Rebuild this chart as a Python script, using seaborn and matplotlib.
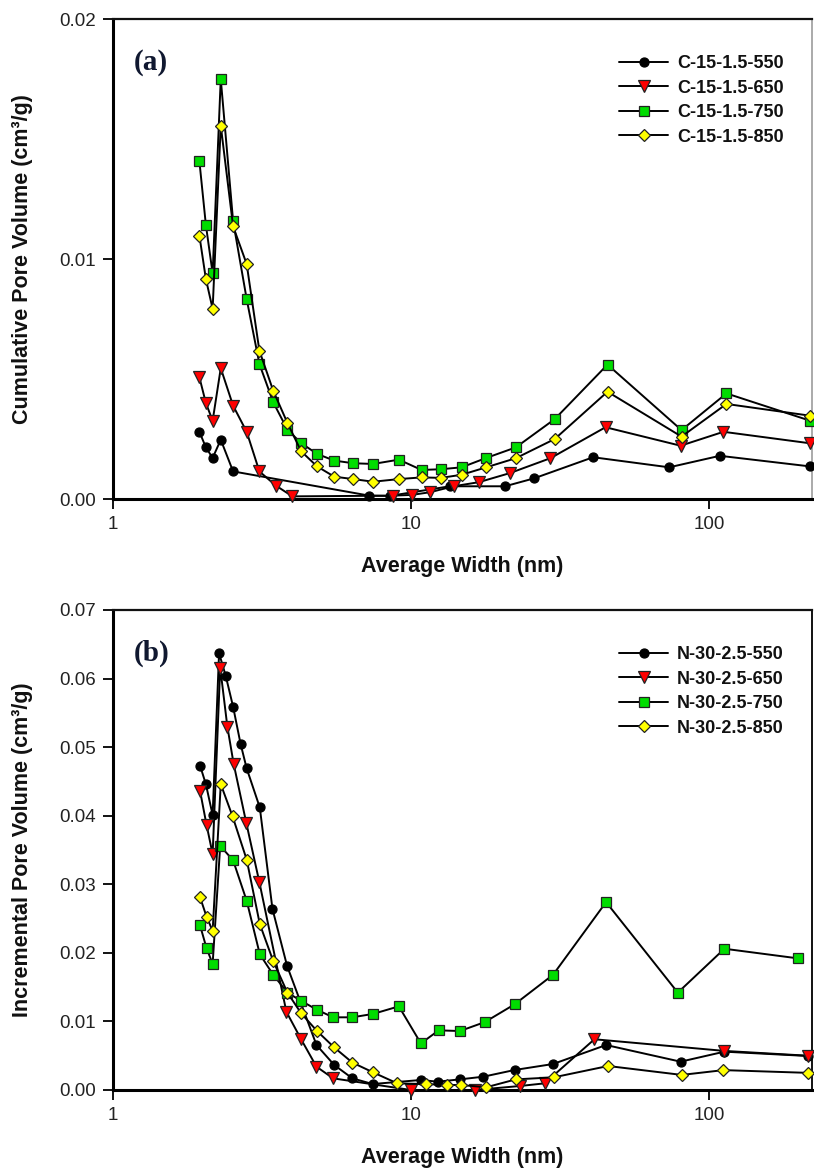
import matplotlib
matplotlib.use("Agg")
import matplotlib.pyplot as plt
import seaborn as sns
import pandas as pd
from matplotlib.ticker import FixedLocator, NullLocator, FuncFormatter

# ---------------- (a) cumulative pore volume, C-15-1.5 series ----------------
a550_w = [1.95, 2.05, 2.16, 2.30, 2.53, 7.25, 8.5, 13.5, 20.7, 25.9, 40.9, 73.6, 108.9, 218]
a550_v = [0.0028, 0.00215, 0.00171, 0.00247, 0.00115, 0.00014, 0.00013, 0.00053,
          0.00053, 0.00086, 0.00174, 0.00132, 0.0018, 0.00136]

a650_w = [1.95, 2.05, 2.16, 2.30, 2.53, 2.81, 3.10, 3.52, 4.0, 8.73, 10.05, 11.58,
          13.9, 16.9, 21.5, 29.4, 45.0, 80.4, 112, 219]
a650_v = [0.00507, 0.0040, 0.00326, 0.00545, 0.00389, 0.0028, 0.00115, 0.00056, 0.00011,
          0.00014, 0.00017, 0.00028, 0.00053, 0.0007, 0.00108, 0.0017, 0.00299, 0.00222,
          0.0028, 0.00232]

a750_w = [1.95, 2.05, 2.16, 2.30, 2.53, 2.81, 3.10, 3.45, 3.85, 4.28, 4.84, 5.53, 6.40,
          7.47, 9.11, 10.86, 12.6, 14.8, 17.9, 22.5, 30.4, 45.7, 81.0, 114.6, 219]
a750_v = [0.01407, 0.01142, 0.0094, 0.0175, 0.01158, 0.00833, 0.00563, 0.00403, 0.00289,
          0.00233, 0.00188, 0.0016, 0.00149, 0.00146, 0.00164, 0.00121, 0.00124, 0.00132,
          0.00171, 0.00215, 0.00333, 0.0056, 0.00287, 0.0044, 0.00326]

a850_w = a750_w
a850_v = [0.01097, 0.00917, 0.00792, 0.01556, 0.01136, 0.00979, 0.00618, 0.00451, 0.00317,
          0.00199, 0.00136, 0.00093, 0.00083, 0.00072, 0.00083, 0.0009, 0.00088, 0.00101,
          0.00132, 0.0017, 0.0025, 0.00447, 0.0026, 0.00396, 0.00347]

# ---------------- (b) incremental pore volume, N-30-2.5 series ----------------
b550_w = [1.96, 2.05, 2.16, 2.27, 2.39, 2.53, 2.68, 2.81, 3.11, 3.43, 3.84, 4.82, 5.53,
          6.36, 7.44, 10.8, 12.3, 14.6, 17.5, 22.3, 30.0, 45.2, 80.4, 112.8, 215]
b550_v = [0.0473, 0.0446, 0.0401, 0.0637, 0.0604, 0.0559, 0.0505, 0.0469, 0.0412, 0.0264,
          0.0181, 0.00656, 0.00364, 0.0017, 0.00087, 0.00146, 0.00121, 0.00155, 0.00194,
          0.00292, 0.00379, 0.00656, 0.00413, 0.00559, 0.00496]

b650_w = [1.96, 2.06, 2.16, 2.29, 2.42, 2.54, 2.80, 3.10, 3.82, 4.28, 4.82, 5.48, 10.0,
          16.4, 23.2, 28.1, 41.3, 112.8, 215]
b650_v = [0.0436, 0.0387, 0.0344, 0.0616, 0.0530, 0.0476, 0.0390, 0.0303, 0.0114, 0.0074,
          0.0034, 0.0017, 0.0, 0.0, 0.00058, 0.00097, 0.0074, 0.0057, 0.0050]

b750_w = [1.96, 2.06, 2.16, 2.29, 2.53, 2.81, 3.11, 3.45, 3.85, 4.28, 4.84, 5.48, 6.36,
          7.47, 9.11, 10.8, 12.4, 14.6, 17.7, 22.3, 30.0, 45.2, 78.7, 112.8, 199]
b750_v = [0.0240, 0.0207, 0.0184, 0.0356, 0.0335, 0.0276, 0.0198, 0.0168, 0.0142, 0.0130,
          0.0117, 0.0106, 0.0106, 0.0111, 0.0122, 0.0068, 0.0087, 0.0086, 0.0099, 0.0125,
          0.0168, 0.0274, 0.0142, 0.0206, 0.0192]

b850_w = [1.96, 2.06, 2.16, 2.30, 2.52, 2.81, 3.11, 3.45, 3.85, 4.28, 4.84, 5.53, 6.36,
          7.44, 9.0, 11.2, 13.2, 14.7, 17.9, 22.5, 30.2, 45.9, 81.1, 112, 215]
b850_v = [0.0281, 0.0253, 0.0232, 0.0446, 0.0399, 0.0336, 0.0242, 0.0188, 0.0142, 0.0112,
          0.0086, 0.0062, 0.0040, 0.0026, 0.00097, 0.00087, 0.00073, 0.00073, 0.0004,
          0.00155, 0.00185, 0.0035, 0.0022, 0.0029, 0.0025]

labels_a = ["C-15-1.5-550", "C-15-1.5-650", "C-15-1.5-750", "C-15-1.5-850"]
labels_b = ["N-30-2.5-550", "N-30-2.5-650", "N-30-2.5-750", "N-30-2.5-850"]
x_ticks = [1, 10, 100]
x_tick_labels = ["1", "10", "100"]
y_ticks_a = [0.00, 0.01, 0.02]
y_ticks_b = [0.00, 0.01, 0.02, 0.03, 0.04, 0.05, 0.06, 0.07]

# marker style per temperature: (marker, face colour, size)
styles = [("o", "black", 6.5), ("v", "#ff0000", 8), ("s", "#00dd00", 6.5), ("D", "#ffff00", 6.5)]

sns.set_style("white")
plt.rcParams["font.family"] = ["Liberation Sans", "DejaVu Sans"]

W, H = 814, 1171
fig = plt.figure(figsize=(W / 100, H / 100), dpi=100)
ax_a = fig.add_axes([113 / W, 672 / H, 699 / W, 480 / H])
ax_b = fig.add_axes([113 / W, 81 / H, 699 / W, 480 / H])


def draw_panel(ax, series, labels, yticks, ylabel, tag, right_spine_color):
    for (w, v), lab, (mk, fc, ms) in zip(series, labels, styles):
        df = pd.DataFrame({"width": w, "volume": v})
        sns.lineplot(data=df, x="width", y="volume", ax=ax, color="black", lw=1.4,
                     marker=mk, markersize=ms, markerfacecolor=fc,
                     markeredgecolor="#222222" if fc != "black" else "black",
                     markeredgewidth=0.9, errorbar=None, label=lab, clip_on=False,
                     zorder=3)
    ax.set_xscale("log")
    ax.set_xlim(1, 222)
    ax.set_ylim(yticks[0], yticks[-1])
    ax.xaxis.set_major_locator(FixedLocator(x_ticks))
    ax.xaxis.set_minor_locator(NullLocator())
    ax.set_xticklabels(x_tick_labels)
    ax.yaxis.set_major_locator(FixedLocator(yticks))
    ax.yaxis.set_major_formatter(FuncFormatter(lambda y, p: f"{y:.2f}"))
    ax.tick_params(axis="both", which="major", direction="out", length=7, width=1.3,
                   labelsize=13.5, colors="black", labelcolor="#222222",
                   bottom=True, left=True, top=False, right=False, pad=5)
    for side in ("left", "bottom"):
        ax.spines[side].set_linewidth(2.2)
        ax.spines[side].set_color("black")
    ax.spines["top"].set_linewidth(1.6)
    ax.spines["top"].set_color("#111111")
    ax.spines["right"].set_linewidth(1.4)
    ax.spines["right"].set_color(right_spine_color)

    ax.set_xlabel("Average Width (nm)", fontsize=15.5, fontweight="bold", color="#111111")
    ax.set_ylabel(ylabel, fontsize=15.5, fontweight="bold", color="#111111")
    ax.xaxis.set_label_coords(0.5, -0.118)
    ax.yaxis.set_label_coords(-0.114, 0.5)

    ax.text(0.03, 0.91, tag, transform=ax.transAxes, ha="left", va="center",
            fontsize=21, fontweight="bold", family="Liberation Serif", color="#101830")

    leg = ax.legend(loc="upper left", bbox_to_anchor=(0.714, 0.94), frameon=False,
                    prop={"weight": "bold", "size": 13}, handlelength=2.7,
                    handletextpad=0.5, labelspacing=0.42, borderaxespad=0)
    for t in leg.get_texts():
        t.set_color("#111111")
    ax.set_facecolor("white")


draw_panel(ax_a, [(a550_w, a550_v), (a650_w, a650_v), (a750_w, a750_v), (a850_w, a850_v)],
           labels_a, y_ticks_a, "Cumulative Pore Volume (cm\u00b3/g)", "(a)", "#aaaaaa")
draw_panel(ax_b, [(b550_w, b550_v), (b650_w, b650_v), (b750_w, b750_v), (b850_w, b850_v)],
           labels_b, y_ticks_b, "Incremental Pore Volume (cm\u00b3/g)", "(b)", "#111111")

fig.savefig("out.png", dpi=100, facecolor="white")
